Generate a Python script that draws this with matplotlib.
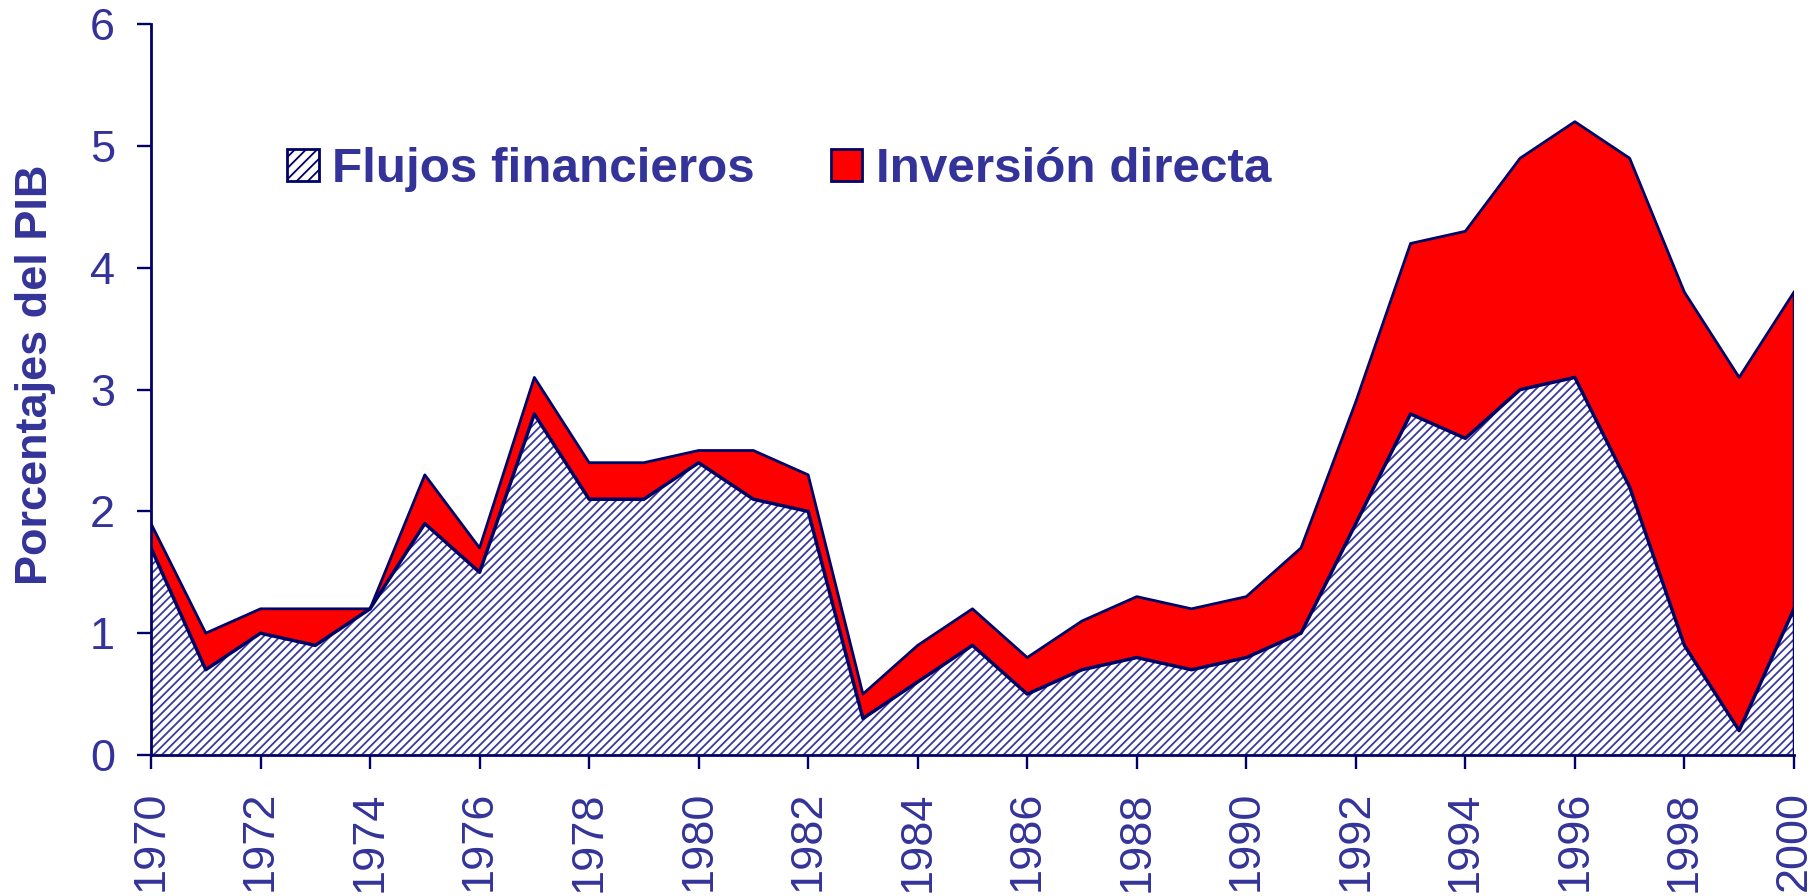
import matplotlib
matplotlib.use("Agg")
import matplotlib.pyplot as plt
import numpy as np
from matplotlib.patches import Patch

years = list(range(1970, 2001))
flujos = [1.7, 0.7, 1.0, 0.9, 1.2, 1.9, 1.5, 2.8, 2.1, 2.1, 2.4, 2.1, 2.0, 0.3, 0.6,
          0.9, 0.5, 0.7, 0.8, 0.7, 0.8, 1.0, 1.9, 2.8, 2.6, 3.0, 3.1, 2.2, 0.9, 0.2, 1.2]
total = [1.9, 1.0, 1.2, 1.2, 1.2, 2.3, 1.7, 3.1, 2.4, 2.4, 2.5, 2.5, 2.3, 0.5, 0.9,
         1.2, 0.8, 1.1, 1.3, 1.2, 1.3, 1.7, 2.9, 4.2, 4.3, 4.9, 5.2, 4.9, 3.8, 3.1, 3.8]
inversion = [round(t - f, 2) for t, f in zip(total, flujos)]

xticks = list(range(1970, 2001, 2))
yticks = [0, 1, 2, 3, 4, 5, 6]

NAVY = "#000066"
TXT = "#333399"
RED = "#ff0000"

plt.rcParams['font.family'] = ['Liberation Sans', 'DejaVu Sans']
plt.rcParams['hatch.linewidth'] = 1.3

fig = plt.figure(figsize=(18.17, 8.96), dpi=100)
ax = fig.add_axes([0.0831, 0.1574, 0.9042, 0.8155])

x = np.array(years)
f = np.array(flujos)
t = f + np.array(inversion)

ax.fill_between(x, 0, f, facecolor="white", edgecolor="#3a3a9a", hatch="////", linewidth=0)
ax.fill_between(x, f, t, facecolor=RED, linewidth=0)
ax.plot(x, f, color=NAVY, linewidth=2.5)
ax.plot(x, t, color=NAVY, linewidth=2.0)
ax.vlines(x[-1], 0, t[-1], color=NAVY, linewidth=2.5)

ax.set_xlim(1970, 2000)
ax.set_ylim(0, 6)
ax.set_xticks(xticks)
ax.set_xticklabels([str(v) for v in xticks], rotation=90)
ax.set_yticks(yticks)
ax.tick_params(axis='both', colors=NAVY, labelcolor=TXT, labelsize=32.5,
               direction='out', length=10, width=1.7, pad=16)
for s in ['top', 'right']:
    ax.spines[s].set_visible(False)
for s in ['left', 'bottom']:
    ax.spines[s].set_color(NAVY)
    ax.spines[s].set_linewidth(2.0)

ax.set_ylabel("Porcentajes del PIB", fontsize=32.5, fontweight='bold', color=TXT)
ax.yaxis.set_label_coords(-0.058, 0.52)

handles = [Patch(facecolor="white", edgecolor=NAVY, hatch="///", linewidth=2, label="Flujos financieros"),
           Patch(facecolor=RED, edgecolor=NAVY, linewidth=2, label="Inversión directa")]
leg = ax.legend(handles=handles, loc='center left', bbox_to_anchor=(0.083, 0.801), ncol=2,
                frameon=False, fontsize=35.6, handlelength=0.63, handleheight=0.61,
                handletextpad=0.27, columnspacing=1.55, borderpad=0, borderaxespad=0)
for txt in leg.get_texts():
    txt.set_color(TXT)
    txt.set_fontweight('bold')

fig.savefig("out.png", dpi=100)
